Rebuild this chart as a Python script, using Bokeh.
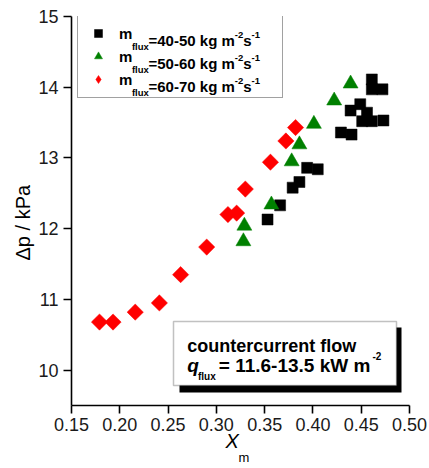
import math
from bokeh.plotting import figure
from bokeh.models import (Label, Legend, LegendItem, BoxAnnotation, FixedTicker,
                          PrintfTickFormatter, Range1d, Title)
from bokeh.core.properties import value
from bokeh.embed import file_html
from bokeh.resources import INLINE

# ---------------- data ----------------
x_lim = [0.15, 0.50]
y_lim = [9.5, 15.0]
x_ticks = [0.15, 0.20, 0.25, 0.30, 0.35, 0.40, 0.45, 0.50]
y_ticks = [10, 11, 12, 13, 14, 15]

# m_flux = 40-50 kg m^-2 s^-1 (black squares)
xm_40_50 = [0.353, 0.366, 0.379, 0.386, 0.394, 0.405, 0.429, 0.440, 0.439,
            0.449, 0.456, 0.451, 0.461, 0.473, 0.461, 0.461, 0.472]
dp_40_50 = [12.13, 12.33, 12.58, 12.66, 12.86, 12.84, 13.36, 13.33, 13.67,
            13.76, 13.64, 13.52, 13.52, 13.53, 14.11, 13.97, 13.97]

# m_flux = 50-60 (green triangles)
xm_50_60 = [0.329, 0.328, 0.357, 0.378, 0.386, 0.401, 0.422, 0.439]
dp_50_60 = [12.04, 11.82, 12.34, 12.95, 13.19, 13.48, 13.81, 14.05]

# m_flux = 60-70 (red diamonds)
xm_60_70 = [0.179, 0.193, 0.216, 0.241, 0.263, 0.290, 0.312, 0.321, 0.330,
            0.356, 0.372, 0.382]
dp_60_70 = [10.68, 10.68, 10.82, 10.95, 11.35, 11.74, 12.20, 12.22, 12.56,
            12.94, 13.24, 13.43]

legend_ranges = ["=40-50 kg m", "=50-60 kg m", "=60-70 kg m"]

# ---------------- layout ----------------
FONT = "Liberation Sans"
ML, MT, FW, FH = 71, 16, 338, 389
FL, FT = ML, MT
FR, FB = FL + FW, FT + FH

p = figure(output_backend="svg", toolbar_location=None,
           frame_width=FW, frame_height=FH,
           min_border_left=ML, min_border_top=MT,
           min_border_right=429 - FR, min_border_bottom=468 - FB,
           x_range=Range1d(*x_lim), y_range=Range1d(*y_lim))
p.background_fill_color = "white"
p.border_fill_color = "white"
p.outline_line_color = None
p.xgrid.visible = False
p.ygrid.visible = False


def dx(px):
    return x_lim[0] + (px - FL) * (x_lim[1] - x_lim[0]) / (FR - FL)


def dy(py):
    return y_lim[1] - (py - FT) * (y_lim[1] - y_lim[0]) / (FB - FT)


for ax in (p.xaxis[0], p.yaxis[0]):
    ax.axis_line_color = "black"
    ax.axis_line_width = 1.6
    ax.major_tick_line_color = "black"
    ax.major_tick_line_width = 1.6
    ax.major_tick_in = 0
    ax.major_tick_out = 8
    ax.minor_tick_line_color = None
    ax.major_label_text_font = FONT
    ax.major_label_text_font_size = "18px"
    ax.major_label_text_color = "#1a1a1a"

p.xaxis.ticker = FixedTicker(ticks=x_ticks)
p.xaxis.formatter = PrintfTickFormatter(format="%.2f")
p.xaxis.major_label_standoff = 4
p.yaxis.ticker = FixedTicker(ticks=y_ticks)
p.yaxis.major_label_standoff = 5

GREEN = "#008000"
RED = "#ff0000"
r1 = p.scatter(xm_40_50, dp_40_50, marker="square", size=11,
               fill_color="black", line_color="black", line_width=0.5)
r2 = p.scatter(xm_50_60, dp_50_60, marker="triangle", size=15,
               fill_color=GREEN, line_color=GREEN, line_width=0.5)
# diamond symbol used for the legend (fully covered by the rotated squares)
r3 = p.scatter(xm_60_70, dp_60_70, marker="diamond", size=14,
               fill_color=RED, line_color=RED, line_width=0.5)
p.scatter(xm_60_70, dp_60_70, marker="square", size=11.5, angle=math.pi / 4,
          fill_color=RED, line_color=RED, line_width=0.5)

legend = Legend(items=[LegendItem(label=value("m"), renderers=[r1]),
                       LegendItem(label=value("m"), renderers=[r2]),
                       LegendItem(label=value("m"), renderers=[r3])],
                location=(77 - FL, FB - 98), margin=0, padding=8, spacing=3,
                glyph_width=24, glyph_height=20, label_width=155, label_height=20,
                label_standoff=9, label_text_font=FONT, label_text_font_size="15px",
                label_text_font_style="bold", label_text_color="black",
                border_line_color="#444444", border_line_width=1.5,
                background_fill_color="white", background_fill_alpha=0.0)
p.add_layout(legend)


def lab(px, py, text, size, style="normal"):
    p.add_layout(Label(x=dx(px), y=dy(py), text=text, text_font=FONT,
                       text_font_size=size, text_font_style=style,
                       text_color="black", text_align="left",
                       text_baseline="alphabetic", level="overlay"))


# legend texts (rest of each entry)
for i, rng in enumerate(legend_ranges):
    c = 34 + 23 * i
    lab(131.4, c + 12.2, "flux", "9.5px", "bold")
    lab(148.0, c + 5.5, rng, "15px", "bold")
    lab(234.3, c + 0.5, "-2", "9.5px", "bold")
    lab(242.7, c + 5.5, "s", "15px", "bold")
    lab(251.0, c + 0.5, "-1", "9.5px", "bold")

# text box with shadow
p.add_layout(BoxAnnotation(left=dx(179), right=dx(401), top=dy(327), bottom=dy(392),
                           fill_color="black", fill_alpha=1.0, line_color=None))
p.add_layout(BoxAnnotation(left=dx(173), right=dx(396), top=dy(321), bottom=dy(385),
                           fill_color="white", fill_alpha=1.0,
                           line_color="#333333", line_width=1.5))
lab(186.7, 345, "countercurrent flow", "18px", "bold")
lab(186.7, 365, "q", "19px", "bold italic")
lab(197.5, 376, "flux", "10px", "bold")
lab(218.3, 365, "= 11.6-13.5 kW m", "19px", "bold")
lab(372.0, 355, "-2", "10px", "bold")


# axis titles (as side-panel titles so they are not clipped by the frame)
def side_title(text, side, offset, valign, standoff, size, style):
    t = Title(text=text, align="left", offset=offset, vertical_align=valign,
              text_font=FONT, text_font_size=size, text_font_style=style,
              text_color="black")
    try:
        t.standoff = standoff
    except Exception:
        t.standoff = 0
    p.add_layout(t, side)


side_title("X", "below", 225 - FL, "top", -7, "20px", "italic")
side_title("m", "below", 238 - FL, "bottom", -6, "13px", "normal")
side_title("\u0394p / kPa", "left", FB - 260, "middle", 2, "20px", "normal")

open("out.html", "w").write(file_html(p, INLINE))
